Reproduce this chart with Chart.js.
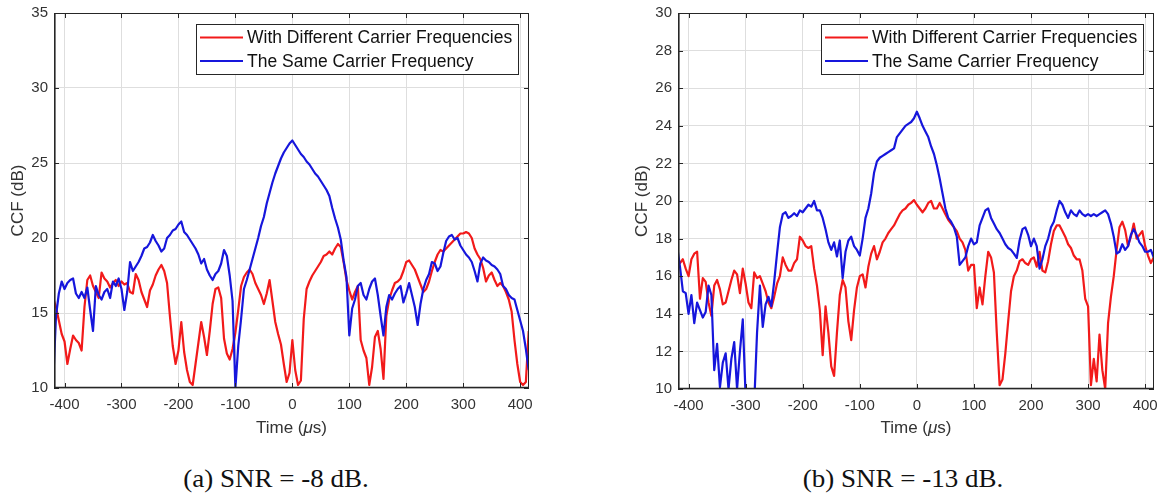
<!DOCTYPE html>
<html>
<head>
<meta charset="utf-8">
<script src="https://cdn.jsdelivr.net/npm/chart.js@4.4.0/dist/chart.umd.min.js"></script>
<style>
  html, body { margin: 0; padding: 0; background: #fff; overflow: hidden; }
  body { width: 1159px; height: 495px; position: relative; }
  .panel { position: absolute; top: 0; }
  #wrapA { left: 0; }
  #wrapB { left: 590px; }
  .caption {
    position: absolute; top: 465.5px; line-height: 25.5px;
    font-family: "Liberation Serif", "Times New Roman", serif; font-size: 25.5px;
    color: #111; white-space: nowrap; transform: translateX(-50%) scaleX(1.06);
  }
</style>
</head>
<body>
<div class="panel" id="wrapA"><canvas id="chartA" width="580" height="450"></canvas></div>
<div class="panel" id="wrapB"><canvas id="chartB" width="569" height="450"></canvas></div>
<div class="caption" id="capA" style="left:276px"></div>
<div class="caption" id="capB" style="left:903px"></div>

<script>
// ---- data -------------------------------------------------------------
// Cross-correlation (dB) sampled every 5 us from -420 us.
const T_START = -420;
const T_STEP = 5;

// (a) SNR = -8 dB
const ccfA_diff = [
  16.0, 15.4, 14.5, 13.6, 13.1, 11.6, 12.6, 13.5, 13.2, 13.0,
  12.5, 15.4, 17.2, 17.5, 16.8, 16.4, 16.0, 17.7, 17.3, 17.1,
  16.7, 17.0, 17.2, 16.8, 17.1, 16.9, 17.0, 16.4, 16.3, 17.6,
  17.2, 16.4, 15.9, 15.4, 16.5, 16.9, 17.5, 17.9, 18.2, 17.8,
  17.0, 14.8, 12.8, 11.6, 12.5, 14.4, 12.4, 11.2, 10.4, 10.2,
  11.6, 13.0, 14.4, 13.4, 12.2, 13.8, 15.6, 16.6, 16.7, 16.0,
  13.3, 12.3, 11.9, 12.6, 13.7, 15.2, 16.8, 17.4, 17.7, 17.9,
  17.6, 17.0, 16.6, 16.2, 15.6, 16.3, 17.2, 15.8, 14.4, 13.6,
  12.9, 11.6, 10.4, 11.0, 13.2, 11.2, 10.2, 10.5, 14.6, 16.6,
  17.1, 17.5, 17.8, 18.1, 18.4, 18.8, 18.9, 19.1, 18.9, 19.3,
  19.6, 19.4, 18.4, 17.2, 16.5, 15.9, 16.4, 16.8, 13.2, 12.5,
  12.0, 10.2, 11.4, 13.4, 13.8, 12.6, 10.6, 14.8, 15.9, 16.5,
  17.0, 17.1, 17.3, 17.8, 18.4, 18.5, 18.2, 17.9, 17.4, 16.9,
  16.4, 16.6, 17.1, 17.8, 18.4, 18.9, 19.2, 19.1, 19.3, 19.5,
  19.7, 19.9, 20.1, 20.3, 20.3, 20.4, 20.3, 20.0, 19.3, 18.9,
  18.6, 18.0, 17.1, 17.5, 17.7, 17.2, 16.8, 17.0, 16.8, 16.4,
  15.9, 15.1, 13.2, 11.6, 10.4, 10.2, 10.4, 13.8
];
const ccfA_same = [
  10.3, 14.8, 16.3, 17.1, 16.6, 17.0, 17.2, 17.3, 16.3, 16.0,
  16.4, 16.0, 16.7, 15.2, 13.8, 16.8, 16.2, 15.9, 16.4, 16.6,
  16.0, 17.1, 16.8, 17.3, 16.6, 15.2, 16.4, 18.4, 17.8, 18.1,
  18.4, 18.8, 19.3, 19.4, 19.7, 20.2, 19.8, 19.5, 19.1, 19.3,
  20.0, 20.2, 20.5, 20.6, 20.9, 21.1, 20.4, 20.2, 19.9, 19.6,
  19.3, 18.9, 18.3, 18.6, 17.9, 17.5, 17.2, 17.6, 17.8, 18.3,
  19.2, 18.8, 17.5, 15.8, 10.0, 12.8, 14.6, 16.6, 17.2, 17.9,
  18.6, 19.3, 20.0, 20.8, 21.4, 22.3, 23.0, 23.7, 24.3, 24.8,
  25.3, 25.7, 26.0, 26.3, 26.5, 26.2, 25.9, 25.6, 25.4, 25.1,
  24.9, 24.6, 24.3, 24.1, 23.8, 23.5, 23.2, 22.8, 22.0, 21.3,
  20.7, 19.9, 18.5, 17.4, 13.5, 15.3, 15.9, 16.8, 17.0, 16.2,
  15.9, 16.6, 17.1, 17.3, 16.2, 14.8, 13.5, 15.4, 16.2, 15.9,
  16.3, 16.6, 16.8, 15.7, 16.3, 17.0, 16.2, 15.4, 14.2, 15.6,
  16.6, 17.2, 17.6, 18.4, 18.3, 17.8, 18.1, 19.0, 19.8, 20.1,
  20.2, 19.9, 20.0, 19.5, 19.2, 18.9, 18.7, 18.4, 17.8, 17.1,
  18.3, 18.7, 18.5, 18.4, 18.2, 18.1, 17.9, 17.6, 16.8, 16.6,
  16.2, 16.0, 15.9, 15.2, 14.5, 13.8, 12.6, 11.2
];

// (b) SNR = -13 dB
const ccfB_diff = [
  16.9, 16.7, 16.9, 16.4, 16.0, 16.9, 17.2, 17.3, 14.8, 15.9,
  15.7, 14.6, 13.9, 15.5, 15.8, 15.3, 14.5, 14.6, 15.2, 15.8,
  16.3, 16.1, 15.1, 16.4, 15.6, 14.6, 14.3, 16.2, 15.9, 16.0,
  15.6, 15.2, 14.6, 14.3, 14.9, 15.6, 16.0, 17.0, 16.6, 16.3,
  16.3, 16.7, 16.9, 18.1, 17.9, 17.6, 17.5, 17.6, 16.4, 15.5,
  14.2, 11.8, 14.4, 13.0, 11.2, 10.7, 13.0, 15.0, 15.8, 15.4,
  13.6, 12.6, 14.2, 15.4, 16.0, 16.1, 15.4, 16.5, 17.2, 17.6,
  16.9, 17.3, 17.8, 18.0, 18.3, 18.5, 18.7, 19.0, 19.3, 19.5,
  19.6, 19.8, 19.9, 20.05, 19.8, 19.6, 19.4, 19.6, 19.9, 20.0,
  19.6, 19.6, 19.9, 19.6, 19.3, 19.0, 18.8, 18.6, 18.4, 18.0,
  17.8, 17.4, 16.3, 16.6, 16.6, 14.3, 15.4, 14.5, 16.0, 17.3,
  17.0, 16.2, 13.0, 10.2, 10.5, 11.9, 13.6, 15.2, 16.0, 16.3,
  16.8, 16.9, 16.7, 16.6, 16.9, 17.0, 16.5, 17.3, 16.3, 16.2,
  16.8, 17.7, 18.4, 18.7, 18.7, 18.4, 18.1, 17.7, 17.5, 17.1,
  16.9, 16.9, 16.3, 14.8, 14.4, 10.2, 11.6, 10.4, 12.9, 11.0,
  10.0, 13.5, 14.9, 16.0, 17.4, 18.6, 18.9, 18.45, 17.6, 18.1,
  18.8, 18.0, 18.2, 18.4, 17.6, 17.1, 16.7, 17.0
];
const ccfB_same = [
  17.6, 16.5, 15.2, 15.1, 14.0, 15.0, 13.5, 14.6, 14.2, 13.8,
  14.1, 15.5, 15.0, 11.0, 12.4, 10.1, 11.4, 11.9, 10.0, 11.6,
  12.5, 10.0, 12.0, 13.7, 9.6, 9.0, 9.0, 9.2, 13.0, 15.5,
  13.3, 14.5, 14.9, 14.4, 15.7, 17.2, 18.6, 19.3, 19.4, 19.1,
  19.2, 19.35, 19.2, 19.5, 19.4, 19.6, 19.8, 19.7, 20.0, 19.5,
  19.5, 19.1, 18.5, 17.8, 17.4, 17.8, 17.05, 17.9, 15.9, 17.3,
  17.9, 18.1, 17.6, 17.4, 17.1, 18.0, 19.1, 19.6, 20.4, 21.5,
  22.1, 22.3, 22.4, 22.5, 22.6, 22.7, 22.8, 23.4, 23.6, 23.8,
  24.0, 24.1, 24.2, 24.4, 24.75, 24.4, 24.0, 23.7, 23.4, 22.9,
  22.5, 21.9, 21.2, 20.4, 19.6, 19.1, 18.9, 18.6, 18.1, 16.6,
  16.8, 17.0, 17.6, 18.0, 17.7, 17.8, 18.7, 19.1, 19.5, 19.6,
  19.1, 18.8, 18.5, 18.3, 18.0, 17.7, 17.5, 17.4, 17.2, 16.97,
  17.9, 18.5, 18.6, 18.2, 17.6, 18.0, 17.6, 16.4, 16.9, 17.6,
  18.0, 18.6, 18.9, 19.5, 20.0, 19.8, 19.4, 19.1, 19.5, 19.3,
  19.2, 19.5, 19.3, 19.2, 19.3, 19.2, 19.3, 19.2, 19.3, 19.4,
  19.5, 19.3, 18.8, 18.1, 17.2, 17.3, 17.7, 17.4, 17.6, 18.2,
  18.5, 18.2, 17.8, 17.6, 17.3, 17.3, 17.4, 17.0
];

const timeUs = ccfA_same.map((_, i) => T_START + i * T_STEP);

// axis ticks and texts
const timeTicks = [-400, -300, -200, -100, 0, 100, 200, 300, 400];
const ccfTicksA = [10, 15, 20, 25, 30, 35];
const ccfTicksB = [10, 12, 14, 16, 18, 20, 22, 24, 26, 28, 30];
const seriesNames = ['With Different Carrier Frequencies', 'The Same Carrier Frequency'];
const xTitleParts = ['Time (', '\u03bc', 's)'];
const yTitle = 'CCF (dB)';
const captions = ['(a) SNR = -8 dB.', '(b) SNR = -13 dB.'];

// ---- styling ------------------------------------------------------------
const RED = '#f21a1a';
const BLUE = '#1616dc';
const INK = '#262626';
const GRID = '#dedede';
const SANS = "'Liberation Sans', Arial, Helvetica, sans-serif";

document.getElementById('capA').textContent = captions[0];
document.getElementById('capB').textContent = captions[1];

const toPoints = vals => vals.map((v, i) => ({ x: timeUs[i], y: v }));

// Box, inward tick marks, inset legend and axis titles in the MATLAB style
const framePlugin = {
  id: 'matlabFrame',
  afterDatasetsDraw(chart) {
    const { ctx, chartArea: a, scales: { x, y } } = chart;
    ctx.save();
    ctx.strokeStyle = INK;
    ctx.lineWidth = 1;
    ctx.beginPath();
    x.ticks.forEach(t => {
      const px = Math.round(x.getPixelForValue(t.value)) + 0.5;
      ctx.moveTo(px, a.bottom); ctx.lineTo(px, a.bottom - 5);
      ctx.moveTo(px, a.top); ctx.lineTo(px, a.top + 5);
    });
    y.ticks.forEach(t => {
      const py = Math.round(y.getPixelForValue(t.value)) + 0.5;
      ctx.moveTo(a.left, py); ctx.lineTo(a.left + 5, py);
      ctx.moveTo(a.right, py); ctx.lineTo(a.right - 5, py);
    });
    ctx.stroke();
    ctx.strokeRect(a.left + 0.5, a.top + 0.5, a.right - a.left - 1, a.bottom - a.top - 1);
    ctx.lineWidth = 1.6;
    ctx.beginPath();
    ctx.moveTo(a.left, a.bottom - 0.5); ctx.lineTo(a.right, a.bottom - 0.5);
    ctx.moveTo(a.left + 0.8, a.top); ctx.lineTo(a.left + 0.8, a.bottom);
    ctx.stroke();
    ctx.restore();
  },
  afterDraw(chart) {
    const { ctx, chartArea: a } = chart;
    ctx.save();
    // legend box
    const bw = 322, bh = 50;
    const bx = a.right - 11 - bw, by = a.top + 11;
    ctx.fillStyle = '#fff';
    ctx.fillRect(bx, by, bw, bh);
    ctx.strokeStyle = INK;
    ctx.lineWidth = 1;
    ctx.strokeRect(bx + 0.5, by + 0.5, bw, bh);
    ctx.font = `17.5px ${SANS}`;
    ctx.textBaseline = 'middle';
    ctx.textAlign = 'left';
    chart.data.datasets.forEach((ds, i) => {
      const ly = by + 13.5 + i * 23.5;
      ctx.strokeStyle = ds.borderColor;
      ctx.lineWidth = 2.2;
      ctx.beginPath();
      ctx.moveTo(bx + 4, ly); ctx.lineTo(bx + 47, ly);
      ctx.stroke();
      ctx.fillStyle = '#111';
      ctx.fillText(ds.label, bx + 51, ly + 1);
    });

    // x axis title with italic mu
    const fonts = [`17px ${SANS}`, `italic 17px ${SANS}`, `17px ${SANS}`];
    let total = 0;
    const widths = xTitleParts.map((p, i) => { ctx.font = fonts[i]; const w = ctx.measureText(p).width; total += w; return w; });
    let tx = (a.left + a.right) / 2 - total / 2;
    ctx.fillStyle = '#333';
    xTitleParts.forEach((p, i) => { ctx.font = fonts[i]; ctx.fillText(p, tx, 428); tx += widths[i]; });

    // y axis title
    ctx.translate(a.left - 36, (a.top + a.bottom) / 2);
    ctx.rotate(-Math.PI / 2);
    ctx.font = `17px ${SANS}`;
    ctx.textAlign = 'center';
    ctx.fillText(yTitle, 0, 0);
    ctx.restore();
  }
};

function makeChart(canvasId, diffVals, sameVals, yTicks, yMax, geom) {
  const tickFont = { family: SANS, size: 15 };
  return new Chart(document.getElementById(canvasId), {
    type: 'line',
    data: {
      datasets: [
        { label: seriesNames[0], data: toPoints(diffVals), borderColor: RED, borderWidth: 2.2, pointRadius: 0, order: 2 },
        { label: seriesNames[1], data: toPoints(sameVals), borderColor: BLUE, borderWidth: 2.2, pointRadius: 0, order: 1 }
      ]
    },
    options: {
      responsive: false,
      devicePixelRatio: 1,
      animation: false,
      events: [],
      layout: { padding: { left: 0, top: 13, right: geom.padRight, bottom: 0 } },
      plugins: { legend: { display: false }, tooltip: { enabled: false } },
      elements: { line: { tension: 0, borderJoinStyle: 'round' } },
      scales: {
        x: {
          type: 'linear', min: -418.5, max: 415.5,
          afterBuildTicks: s => { s.ticks = timeTicks.map(v => ({ value: v })); },
          afterFit: s => { s.height = geom.xH; s.paddingLeft = 0; s.paddingRight = 0; },
          grid: { color: GRID, lineWidth: 1, drawTicks: false },
          border: { display: false },
          ticks: { font: tickFont, color: '#333', padding: 8, maxRotation: 0, autoSkip: false, callback: v => String(v) }
        },
        y: {
          type: 'linear', min: 10, max: yMax,
          afterBuildTicks: s => { s.ticks = yTicks.map(v => ({ value: v })); },
          afterFit: s => { s.width = geom.yW; s.paddingTop = 0; s.paddingBottom = 0; },
          grid: { color: GRID, lineWidth: 1, drawTicks: false },
          border: { display: false },
          ticks: { font: tickFont, color: '#333', padding: 6, autoSkip: false, callback: v => String(v) }
        }
      }
    },
    plugins: [framePlugin]
  });
}

makeChart('chartA', ccfA_diff, ccfA_same, ccfTicksA, 35, { yW: 54, xH: 62, padRight: 51 });
makeChart('chartB', ccfB_diff, ccfB_same, ccfTicksB, 30, { yW: 88, xH: 61, padRight: 5 });
</script>
</body>
</html>
